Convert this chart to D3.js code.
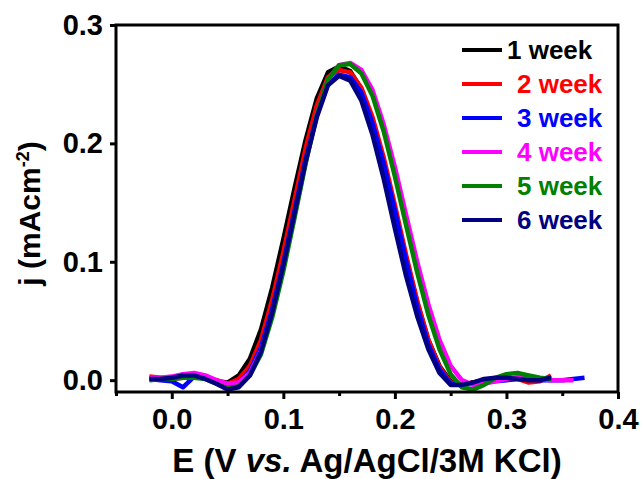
<!DOCTYPE html>
<html>
<head>
<meta charset="utf-8">
<script src="https://cdn.jsdelivr.net/npm/d3@7/dist/d3.min.js"></script>
<style>
    body { margin: 0; background: #fff; }
    text { font-family: Arial, "Liberation Sans", sans-serif; font-weight: bold; }
</style>
</head>
<body>
<svg id="svg_dpv"></svg>
<script>
// potential (V vs Ag/AgCl), one sample every 10 mV
let potential = [-0.02, -0.01, 0.00, 0.01, 0.02, 0.03, 0.04, 0.05, 0.06, 0.07, 0.08, 0.09,
    0.10, 0.11, 0.12, 0.13, 0.14, 0.15, 0.16, 0.17, 0.18, 0.19, 0.20, 0.21, 0.22, 0.23,
    0.24, 0.25, 0.26, 0.27, 0.28, 0.29, 0.30, 0.31, 0.32, 0.33, 0.34, 0.35, 0.36, 0.37];

// current density (mA cm-2)
let week1 = [0.002, 0.001, 0.001, 0.003, 0.004, 0.002, -0.001, -0.002, 0.004, 0.018, 0.043, 0.078,
    0.119, 0.162, 0.203, 0.238, 0.260, 0.265, 0.261, 0.246, 0.220, 0.185, 0.145, 0.104, 0.066, 0.034,
    0.012, -0.001, -0.004, -0.002, 0.000, 0.001, 0.001, 0.002, 0.001, 0.000];
let week2 = [0.003, 0.002, 0.001, 0.002, 0.003, 0.002, 0.000, -0.003, 0.001, 0.012, 0.034, 0.068,
    0.108, 0.152, 0.196, 0.232, 0.256, 0.262, 0.260, 0.247, 0.222, 0.188, 0.148, 0.106, 0.067, 0.034,
    0.011, -0.002, -0.004, -0.002, -0.001, 0.000, 0.001, 0.001, -0.002, -0.001, 0.004];
let week3 = [0.001, 0.000, -0.001, -0.006, 0.003, 0.002, -0.002, -0.005, -0.002, 0.008, 0.028, 0.060,
    0.099, 0.143, 0.187, 0.224, 0.250, 0.258, 0.256, 0.243, 0.217, 0.183, 0.143, 0.101, 0.062, 0.030,
    0.009, -0.003, -0.004, -0.003, -0.002, -0.001, 0.000, 0.001, 0.001, 0.000, 0.000, 0.000, 0.001, 0.002];
let week4 = [0.002, 0.002, 0.003, 0.005, 0.006, 0.004, 0.000, -0.003, -0.002, 0.006, 0.025, 0.056,
    0.095, 0.139, 0.184, 0.224, 0.254, 0.266, 0.268, 0.262, 0.245, 0.216, 0.180, 0.140, 0.100, 0.064,
    0.034, 0.012, 0.000, -0.004, -0.003, -0.001, 0.001, 0.002, 0.002, 0.001, 0.000, 0.000, 0.000];
let week5 = [0.000, 0.001, 0.001, 0.002, 0.002, 0.001, -0.003, -0.007, -0.005, 0.004, 0.022, 0.053,
    0.092, 0.137, 0.183, 0.224, 0.254, 0.266, 0.267, 0.259, 0.240, 0.210, 0.172, 0.131, 0.091, 0.055,
    0.026, 0.005, -0.006, -0.008, -0.004, 0.002, 0.005, 0.006, 0.004, 0.002, 0.001];
let week6 = [0.001, 0.001, 0.002, 0.004, 0.004, 0.001, -0.003, -0.008, -0.006, 0.004, 0.024, 0.057,
    0.097, 0.141, 0.185, 0.222, 0.249, 0.257, 0.253, 0.236, 0.207, 0.170, 0.128, 0.088, 0.054, 0.026,
    0.006, -0.004, -0.004, -0.002, 0.001, 0.002, 0.002, 0.001, 0.000, 0.000, 0.002];

let seriesNames = ["1 week", "2 week", "3 week", "4 week", "5 week", "6 week"];
let seriesValues = [week1, week2, week3, week4, week5, week6];
let seriesColors = ["#000000", "#ff0000", "#0000ff", "#ff00ff", "#008000", "#000080"];

let xTicks = [0.0, 0.1, 0.2, 0.3, 0.4];
let xMinorTicks = [-0.05, 0.05, 0.15, 0.25, 0.35];
let yTicks = [0.0, 0.1, 0.2, 0.3];

let width = 644;
let height = 479;
let margin = {top: 25, right: 26, bottom: 87, left: 116};
let plotW = width - margin.left - margin.right;
let plotH = height - margin.top - margin.bottom;

let svg = d3.select("#svg_dpv")
    .attr("width", width)
    .attr("height", height);

let x = d3.scaleLinear().domain([-0.05, 0.4]).range([0, plotW]);
let y = d3.scaleLinear().domain([-0.01, 0.3]).range([plotH, 0]);

let g = svg.append("g").attr("transform", "translate(" + margin.left + "," + margin.top + ")");

g.append("clipPath").attr("id", "plotClip")
    .append("rect").attr("width", plotW).attr("height", plotH);

// curves
let line = d3.line()
    .x((d, i) => x(potential[i]))
    .y(d => y(d));

g.append("g").attr("clip-path", "url(#plotClip)")
    .selectAll("path")
    .data(seriesValues)
    .enter().append("path")
    .attr("d", d => line(d))
    .attr("fill", "none")
    .attr("stroke", (d, i) => seriesColors[i])
    .attr("stroke-width", 4.5)
    .attr("stroke-linejoin", "round");

// axes
let xAxis = g.append("g")
    .attr("transform", "translate(0," + plotH + ")")
    .call(d3.axisBottom(x).tickValues(xTicks).tickFormat(d3.format(".1f")).tickSize(7).tickPadding(9).tickSizeOuter(0));
let xMinor = g.append("g")
    .attr("transform", "translate(0," + plotH + ")")
    .call(d3.axisBottom(x).tickValues(xMinorTicks).tickFormat("").tickSize(4).tickSizeOuter(0));
let yAxis = g.append("g")
    .call(d3.axisLeft(y).tickValues(yTicks).tickFormat(d3.format(".1f")).tickSize(6).tickPadding(7).tickSizeOuter(0));

[xAxis, xMinor, yAxis].forEach(a => {
    a.select(".domain").remove();
    a.selectAll(".tick line").attr("stroke", "#000").attr("stroke-width", 3);
    a.selectAll(".tick text").attr("fill", "#000").attr("font-size", 29)
        .attr("font-family", "Arial, 'Liberation Sans', sans-serif").attr("font-weight", "bold");
});

// frame
g.append("rect")
    .attr("width", plotW)
    .attr("height", plotH)
    .attr("fill", "none")
    .attr("stroke", "#000")
    .attr("stroke-width", 3);

// legend
let legend = g.append("g").selectAll("g")
    .data(seriesNames)
    .enter().append("g")
    .attr("transform", (d, i) => "translate(0," + (25 + i * 34) + ")");
legend.append("line")
    .attr("x1", 462 - margin.left).attr("x2", 502 - margin.left)
    .attr("stroke", (d, i) => seriesColors[i])
    .attr("stroke-width", 4);
legend.append("text")
    .attr("x", (d, i) => (i === 0 ? 507 : 517) - margin.left)
    .attr("y", 9)
    .attr("font-size", 26)
    .attr("fill", (d, i) => seriesColors[i])
    .text(d => d);

// axis titles
let xTitle = svg.append("text")
    .attr("x", margin.left + plotW / 2)
    .attr("y", 472)
    .attr("text-anchor", "middle")
    .attr("font-size", 33);
xTitle.append("tspan").text("E (V ");
xTitle.append("tspan").attr("font-style", "italic").text("vs.");
xTitle.append("tspan").text(" Ag/AgCl/3M KCl)");

let yTitle = svg.append("text")
    .attr("transform", "translate(40," + (margin.top + plotH / 2 + 5) + ") rotate(-90)")
    .attr("text-anchor", "middle")
    .attr("font-size", 30);
yTitle.append("tspan").text("j (mAcm");
yTitle.append("tspan").attr("font-size", 18).attr("dy", -11).text("-2");
yTitle.append("tspan").attr("dy", 11).text(")");
</script>
</body>
</html>
